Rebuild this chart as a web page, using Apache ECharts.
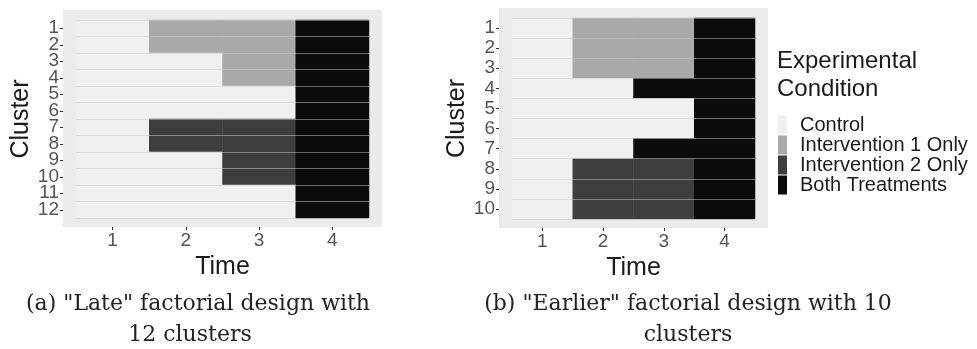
<!DOCTYPE html>
<html>
<head>
<meta charset="utf-8">
<script src="https://cdn.jsdelivr.net/npm/echarts@6/dist/echarts.min.js"></script>
<style>
html, body { margin: 0; padding: 0; background: #fff; }
#chart { width: 977px; height: 349px; }
</style>
</head>
<body>
<div id="chart"></div>
<script>
// time points and cluster labels
const timeLabels = ['1', '2', '3', '4'];
const lateClusters = ['1', '2', '3', '4', '5', '6', '7', '8', '9', '10', '11', '12'];
const earlyClusters = ['1', '2', '3', '4', '5', '6', '7', '8', '9', '10'];

// condition per cluster (row) and time (column)
// 0 = Control, 1 = Intervention 1 Only, 2 = Intervention 2 Only, 3 = Both Treatments
const lateDesign = [
  [0, 1, 1, 3],
  [0, 1, 1, 3],
  [0, 0, 1, 3],
  [0, 0, 1, 3],
  [0, 0, 0, 3],
  [0, 0, 0, 3],
  [0, 2, 2, 3],
  [0, 2, 2, 3],
  [0, 0, 2, 3],
  [0, 0, 2, 3],
  [0, 0, 0, 3],
  [0, 0, 0, 3]
];
const earlyDesign = [
  [0, 1, 1, 3],
  [0, 1, 1, 3],
  [0, 1, 1, 3],
  [0, 0, 3, 3],
  [0, 0, 0, 3],
  [0, 0, 0, 3],
  [0, 0, 3, 3],
  [0, 2, 2, 3],
  [0, 2, 2, 3],
  [0, 2, 2, 3]
];

const conditionNames = ['Control', 'Intervention 1 Only', 'Intervention 2 Only', 'Both Treatments'];
const conditionColors = ['#f0f0f0', '#a9a9a9', '#3e3e3e', '#0b0b0b'];

const captionA = ['(a) "Late" factorial design with', '12 clusters'];
const captionB = ['(b) "Earlier" factorial design with 10', 'clusters'];

const sans = 'Liberation Sans, Arial, sans-serif';
const serif = 'DejaVu Serif, serif';

function toCells(design) {
  const out = [];
  design.forEach((row, ci) => {
    row.forEach((v, ti) => out.push([ti, ci, v]));
  });
  return out;
}

function tileX(gridIndex) {
  return {
    gridIndex: gridIndex,
    type: 'category',
    data: timeLabels,
    offset: 9,
    name: 'Time',
    nameLocation: 'middle',
    nameGap: 20,
    nameTextStyle: { fontSize: 25, color: '#1a1a1a', fontFamily: sans },
    axisLine: { show: false },
    axisTick: { show: true, alignWithLabel: true, length: 3, lineStyle: { color: '#333' } },
    axisLabel: { margin: 4, fontSize: 19, color: '#555', fontFamily: sans },
    splitLine: { show: false }
  };
}

function tileY(gridIndex, clusters) {
  return {
    gridIndex: gridIndex,
    type: 'category',
    data: clusters,
    inverse: true,
    offset: 13,
    z: 3,
    name: 'Cluster',
    nameLocation: 'middle',
    nameRotate: 90,
    nameGap: 28,
    nameTextStyle: { fontSize: 25, color: '#1a1a1a', fontFamily: sans },
    axisLine: { show: false },
    axisTick: { show: true, alignWithLabel: true, length: 3, lineStyle: { color: '#333' } },
    axisLabel: { margin: 4, fontSize: 19, color: '#555', fontFamily: sans, interval: 0 },
    splitLine: { show: true, lineStyle: { color: 'rgba(200,200,200,0.5)', width: 1 } }
  };
}

function hiddenAxis(gridIndex) {
  return { gridIndex: gridIndex, type: 'value', show: false, min: 0, max: 1 };
}

const chart = echarts.init(document.getElementById('chart'));
const option = {
  animation: false,
  backgroundColor: '#fff',
  title: {
    text: 'Experimental\nCondition',
    left: 777,
    top: 47,
    padding: 0,
    textStyle: { fontSize: 24, lineHeight: 28, fontWeight: 'normal', color: '#1a1a1a', fontFamily: sans }
  },
  grid: [
    { left: 63, top: 10, width: 319, height: 217, show: true, backgroundColor: '#ebebeb', borderWidth: 0 },
    { left: 76, top: 20, width: 293, height: 198 },
    { left: 499, top: 8, width: 269, height: 220, show: true, backgroundColor: '#ebebeb', borderWidth: 0 },
    { left: 512, top: 18, width: 243, height: 201 }
  ],
  xAxis: [hiddenAxis(0), tileX(1), hiddenAxis(2), tileX(3)],
  yAxis: [hiddenAxis(0), tileY(1, lateClusters), hiddenAxis(2), tileY(3, earlyClusters)],
  visualMap: {
    type: 'piecewise',
    dimension: 2,
    orient: 'vertical',
    inverse: true,
    align: 'left',
    left: 778,
    top: 115,
    padding: 0,
    itemWidth: 9,
    itemHeight: 19,
    itemGap: 0,
    itemSymbol: 'rect',
    textGap: 13,
    selectedMode: false,
    hoverLink: false,
    pieces: conditionNames.map((n, i) => ({ value: i, label: n, color: conditionColors[i] })),
    textStyle: { fontSize: 20, color: '#1a1a1a', fontFamily: sans }
  },
  series: [
    {
      type: 'heatmap',
      xAxisIndex: 1,
      yAxisIndex: 1,
      data: toCells(lateDesign),
      emphasis: { disabled: true }
    },
    {
      type: 'heatmap',
      xAxisIndex: 3,
      yAxisIndex: 3,
      data: toCells(earlyDesign),
      emphasis: { disabled: true }
    }
  ],
  graphic: [
    { type: 'text', x: 198, y: 304, style: { text: captionA[0], fontSize: 22, fontFamily: serif, fill: '#222', align: 'center', verticalAlign: 'middle' } },
    { type: 'text', x: 190, y: 335, style: { text: captionA[1], fontSize: 22, fontFamily: serif, fill: '#222', align: 'center', verticalAlign: 'middle' } },
    { type: 'text', x: 688, y: 304, style: { text: captionB[0], fontSize: 22, fontFamily: serif, fill: '#222', align: 'center', verticalAlign: 'middle' } },
    { type: 'text', x: 688, y: 335, style: { text: captionB[1], fontSize: 22, fontFamily: serif, fill: '#222', align: 'center', verticalAlign: 'middle' } }
  ]
};
chart.setOption(option);
</script>
</body>
</html>
